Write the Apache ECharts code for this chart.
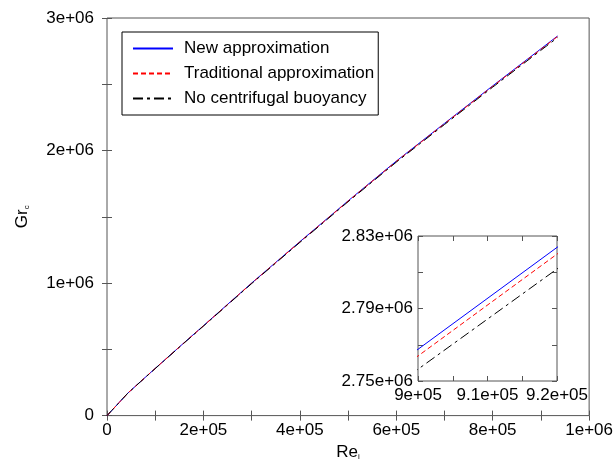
<!DOCTYPE html>
<html>
<head>
<meta charset="utf-8">
<script src="https://cdn.jsdelivr.net/npm/echarts@6/dist/echarts.min.js"></script>
<style>
  html, body { margin: 0; padding: 0; background: #fff; }
  #box1 { width: 616px; height: 466px; }
</style>
</head>
<body>
<div id="box1"></div>
<script>
// Re_i values (x) shared by all curves
const aRe = [0, 1e4, 2.5e4, 4.3e4, 7e4, 1e5, 1.5e5, 2e5, 3e5, 4e5, 5e5, 6e5, 7e5, 8e5, 9e5, 9.2e5, 9.345e5];
// Gr_c for each model
const aNew = [0, 3.9e4, 9.8e4, 1.69e5, 2.58e5, 3.56e5, 5.18e5, 6.78e5, 1.0e6, 1.312e6, 1.62e6, 1.92e6, 2.205e6, 2.488e6, 2.7675e6, 2.8237e6, 2.864e6];
const aTrad = [0, 3.9e4, 9.8e4, 1.688e5, 2.577e5, 3.555e5, 5.173e5, 6.771e5, 0.9987e6, 1.3103e6, 1.6179e6, 1.9175e6, 2.2021e6, 2.4848e6, 2.7638e6, 2.82e6, 2.8602e6];
const aNoCent = [0, 3.88e4, 9.76e4, 1.683e5, 2.57e5, 3.546e5, 5.16e5, 6.753e5, 0.996e6, 1.3068e6, 1.6136e6, 1.9123e6, 2.1962e6, 2.4781e6, 2.7565e6, 2.8118e6, 2.8518e6];
const aNames = ['New approximation', 'Traditional approximation', 'No centrifugal buoyancy'];

const sFont = 'Liberation Sans, Arial, sans-serif';
const sFrame = '#555';

function fmtSci(v){
    if (v === 0) return '0';
    const s = Number(v.toPrecision(6)).toExponential();
    return s.replace(/e([+-])(\d)$/, 'e$10$2');
}

const zip = (xs, ys) => xs.map((x, i) => [x, ys[i]]);

function makeAxis(extra){
    return Object.assign({
        type: 'value',
        axisLine: { show: false },
        axisTick: { show: true, inside: true, length: 5, lineStyle: { color: sFrame } },
        minorTick: { show: true, splitNumber: 2, length: 5, lineStyle: { color: sFrame } },
        splitLine: { show: false },
        axisLabel: { color: '#000', fontSize: 17, fontFamily: sFont, formatter: fmtSci },
    }, extra);
}
function mirror(extra){
    return makeAxis(Object.assign({ axisLabel: { show: false } }, extra));
}
function lbl(margin){
    return { color: '#000', fontSize: 17, fontFamily: sFont, formatter: fmtSci, margin };
}

const aStyles = [
    { color: '#0000ff', type: 'solid' },
    { color: '#ff0000', type: [5, 3] },
    { color: '#000000', type: [10, 4, 3, 4] },
];
const aData = [aNew, aTrad, aNoCent];

const series = [];
[0, 2].forEach(iGrid => {
    aData.forEach((ys, i) => {
        series.push({
            name: aNames[i],
            type: 'line',
            xAxisIndex: iGrid,
            yAxisIndex: iGrid,
            symbol: 'none',
            clip: true,
            animation: false,
            z: 10,
            lineStyle: { width: 1, color: aStyles[i].color, type: aStyles[i].type },
            itemStyle: { color: aStyles[i].color },
            data: zip(aRe, ys),
        });
    });
});

const oSubRich = { sub: { fontSize: 8, fontFamily: sFont, verticalAlign: 'bottom', padding: [10, 0, 0, 0] } };

const myChart = echarts.init(document.getElementById('box1'), null, { renderer: 'canvas' });
myChart.setOption({
    animation: false,
    backgroundColor: '#fff',
    grid: [
        { left: 107, right: 25, top: 18, bottom: 45, show: true, borderColor: sFrame, borderWidth: 1 },
        { left: 418, top: 236, width: 139, height: 145, show: true, borderColor: sFrame, borderWidth: 1 },
    ],
    legend: {
        data: aNames,
        orient: 'vertical',
        left: 122,
        top: 32,
        itemWidth: 40,
        itemHeight: 14,
        itemGap: 8,
        padding: [8, 4, 8, 10],
        borderColor: '#000',
        borderWidth: 1,
        backgroundColor: '#fff',
        itemStyle: { opacity: 0 },
        textStyle: { fontSize: 17, fontFamily: sFont, color: '#000', padding: [0, 0, 0, 6] },
    },
    xAxis: [
        makeAxis({ gridIndex: 0, min: 0, max: 1e6, interval: 2e5, position: 'bottom', axisLabel: lbl(6),
            name: 'Re{sub|i}', nameLocation: 'middle', nameGap: 22,
            nameTextStyle: { fontSize: 17, fontFamily: sFont, color: '#000', rich: oSubRich } }),
        mirror({ gridIndex: 0, min: 0, max: 1e6, interval: 2e5, position: 'top' }),
        makeAxis({ gridIndex: 1, min: 9e5, max: 9.2e5, interval: 1e4, position: 'bottom', axisLabel: lbl(6) }),
        mirror({ gridIndex: 1, min: 9e5, max: 9.2e5, interval: 1e4, position: 'top' }),
    ],
    yAxis: [
        makeAxis({ gridIndex: 0, min: 0, max: 3e6, interval: 1e6, position: 'left', axisLabel: lbl(13),
            name: 'Gr{sub|c}', nameLocation: 'middle', nameGap: 76,
            nameTextStyle: { fontSize: 17, fontFamily: sFont, color: '#000', rich: oSubRich } }),
        mirror({ gridIndex: 0, min: 0, max: 3e6, interval: 1e6, position: 'right' }),
        makeAxis({ gridIndex: 1, min: 2.75e6, max: 2.83e6, interval: 4e4, position: 'left', axisLabel: lbl(5) }),
        mirror({ gridIndex: 1, min: 2.75e6, max: 2.83e6, interval: 4e4, position: 'right' }),
    ],
    series,
});
</script>
</body>
</html>
